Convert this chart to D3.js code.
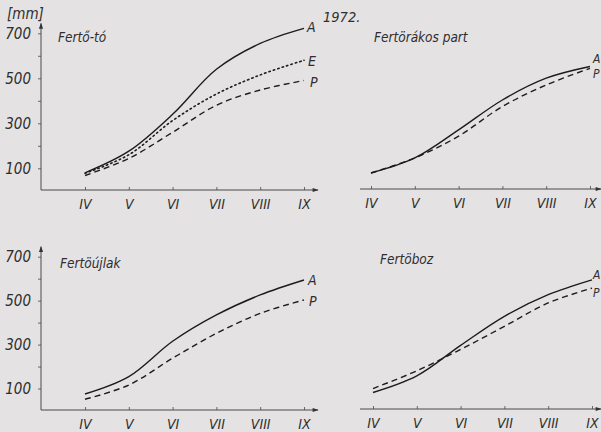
<!DOCTYPE html>
<html><head><meta charset="utf-8">
<script src="https://cdn.jsdelivr.net/npm/d3@7/dist/d3.min.js"></script>
<style>
html,body{margin:0;padding:0;background:#e5e2e3;}
svg{display:block;}
text{font-family:"Liberation Sans Narrow","DejaVu Sans Condensed","Liberation Sans",sans-serif;font-style:italic;fill:#2e2e2e;}
</style></head><body>
<script>
// ---- data ----
const months = ["IV","V","VI","VII","VIII","IX"];
const yTicks = [100,200,300,400,500,600,700];
const yTickLabels = ["100","","300","","500","","700"];
// Fertő-tó
const fertotoA = [80, 176, 340, 540, 655, 722];
const fertotoE = [78, 160, 312, 430, 515, 580];
const fertotoP = [68, 144, 260, 380, 448, 490];
// Fertőrákos part
const rakosA = [78, 145, 270, 403, 500, 552];
const rakosP = [78, 145, 242, 374, 470, 544];
// Fertőújlak
const ujlakA = [75, 154, 315, 435, 526, 594];
const ujlakP = [51, 116, 238, 351, 442, 503];
// Fertőboz
const bozA = [78, 154, 294, 427, 526, 594];
const bozP = [96, 177, 275, 381, 488, 556];

const W = 601, H = 432;
const svg = d3.select("body").append("svg").attr("width", W).attr("height", H);
const ink = "#1c1c1c", axisCol = "#4a4a4a";

svg.append("defs").append("marker").attr("id","arr").attr("viewBox","0 0 10 10")
  .attr("refX",9).attr("refY",5).attr("markerWidth",9).attr("markerHeight",6)
  .attr("markerUnits","userSpaceOnUse").attr("orient","auto")
  .append("path").attr("d","M0,1.5L10,5L0,8.5Z").attr("fill","#333");

const styles = {
  A: {dash: null, w: 1.4},
  E: {dash: "1.4,3.2", w: 1.6},
  P: {dash: "6,4", w: 1.4}
};

const panels = [
  {title:"Fertő-tó", tx:58, ty:42, x0:85, x1:304, y0:190.8, y700:33.3, axisY:true,
   xAxisFrom:41, xAxisTo:318, axisLineY:190,
   series:[["A",fertotoA,3,4],["E",fertotoE,4,6],["P",fertotoP,6,6]]},
  {title:"Fertörákos part", tx:374, ty:42, x0:371, x1:590, y0:190.5, y700:33.3, axisY:false,
   xAxisFrom:360, xAxisTo:601, axisLineY:189,
   series:[["A",rakosA,3,-4],["P",rakosP,3,10]]},
  {title:"Fertöújlak", tx:60, ty:268, x0:85, x1:304, y0:410.5, y700:256.7, axisY:true,
   xAxisFrom:41, xAxisTo:318, axisLineY:410,
   series:[["A",ujlakA,4,5],["P",ujlakP,5,6]]},
  {title:"Fertöboz", tx:380, ty:264, x0:373, x1:592, y0:409.5, y700:256.7, axisY:false,
   xAxisFrom:360, xAxisTo:601, axisLineY:409,
   series:[["A",bozA,1,-1],["P",bozP,1,9]]}
];

panels.forEach(p => {
  const x = d3.scalePoint().domain(months).range([p.x0, p.x1]);
  const y = d3.scaleLinear().domain([0,700]).range([p.y0, p.y700]);
  const g = svg.append("g");

  // x axis
  const xa = g.append("g").attr("transform",`translate(0,${p.axisLineY})`)
    .call(d3.axisBottom(x).tickSize(-3).tickPadding(9));
  xa.select(".domain").remove();
  xa.selectAll(".tick line").attr("stroke",axisCol).attr("stroke-width",0.8);
  xa.selectAll(".tick text").attr("font-size",14).attr("fill","#2e2e2e").style("font-family",null);
  g.append("line").attr("x1",p.xAxisFrom).attr("x2",p.xAxisTo)
    .attr("y1",p.axisLineY).attr("y2",p.axisLineY)
    .attr("stroke",axisCol).attr("stroke-width",1).attr("marker-end","url(#arr)");

  if (p.axisY) {
    const ya = g.append("g").attr("transform",`translate(41,0)`)
      .call(d3.axisLeft(y).tickValues(yTicks).tickSize(3).tickPadding(7)
        .tickFormat((d,i)=>yTickLabels[i]));
    ya.select(".domain").remove();
    ya.selectAll(".tick line").attr("stroke",axisCol).attr("stroke-width",0.8);
    ya.selectAll(".tick text").attr("font-size",15).attr("fill","#2e2e2e").style("font-family",null);
    g.append("line").attr("x1",41).attr("x2",41).attr("y1",p.axisLineY)
      .attr("y2",p.y700 - 10).attr("stroke",axisCol).attr("stroke-width",1)
      .attr("marker-end","url(#arr)");
  }

  g.append("text").attr("x",p.tx).attr("y",p.ty).attr("font-size",13.5).text(p.title);

  const line = d3.line().x((d,i)=>x(months[i])).y(d=>y(d)).curve(d3.curveCatmullRom.alpha(0.5));
  p.series.forEach(([name, vals, dx, dy]) => {
    const st = styles[name];
    g.append("path").datum(vals).attr("d",line).attr("fill","none")
      .attr("stroke",ink).attr("stroke-width",st.w)
      .attr("stroke-dasharray",st.dash).attr("stroke-linecap", name==="E"?"round":"butt");
    const last = vals[vals.length-1];
    g.append("text").attr("x",x(months[months.length-1])+dx).attr("y",y(last)+dy)
      .attr("font-size",p.axisY?14:12).text(name);
  });
});

svg.append("text").attr("x",7).attr("y",19).attr("font-size",15).text("[mm]");
svg.append("text").attr("x",323).attr("y",22).attr("font-size",14.5).text("1972.");
</script>
</body></html>
